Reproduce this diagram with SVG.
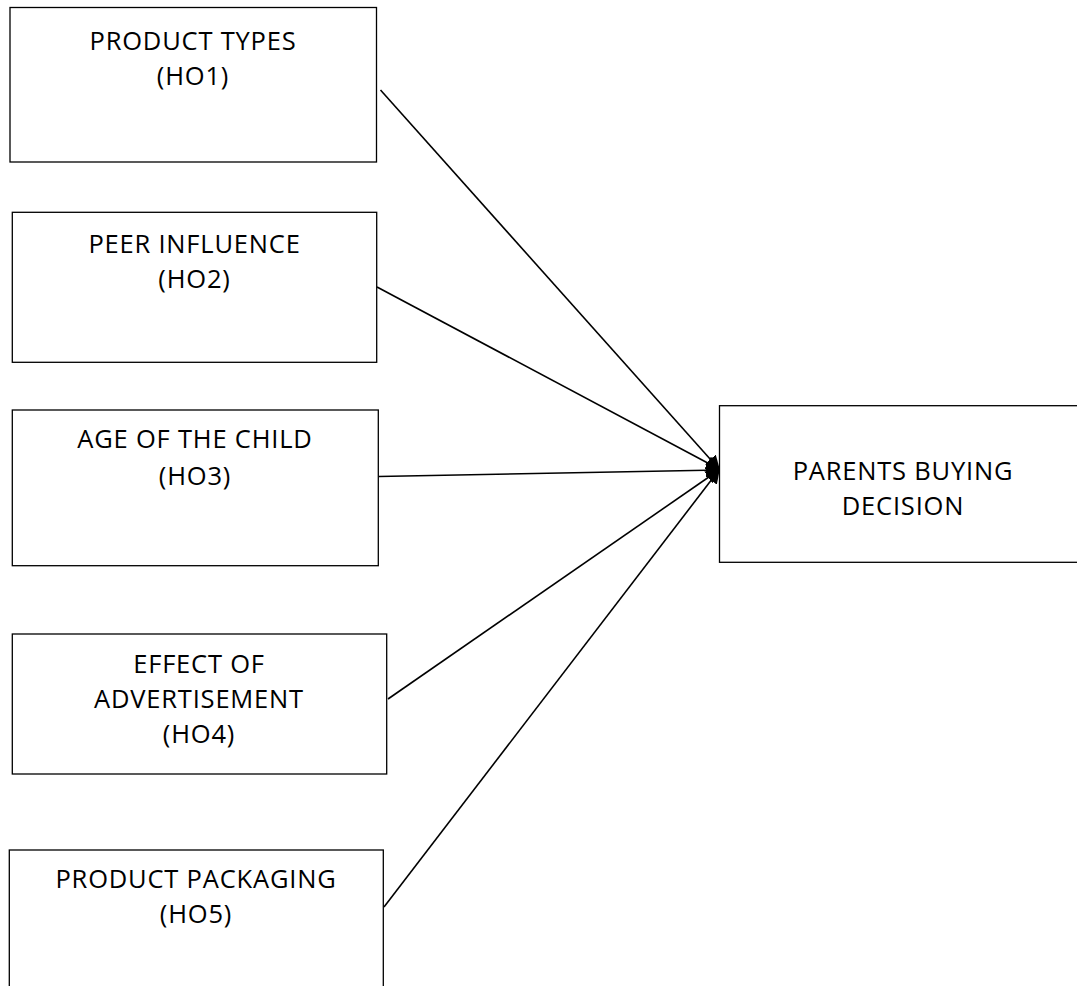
<svg xmlns="http://www.w3.org/2000/svg" width="1077" height="986" viewBox="0 0 1077 986">
<style>
.box{fill:#fff;stroke:#000;stroke-width:1.3}
.t{font-family:"Open Sans","Liberation Sans",sans-serif;font-size:25.5px;fill:#000;text-anchor:middle;letter-spacing:0.8px}
.c{stroke:#000;stroke-width:1.6;fill:none;marker-end:url(#ah)}
</style>
<defs>
<marker id="ah" viewBox="0 0 10 10" refX="9" refY="5" markerWidth="9" markerHeight="9" markerUnits="strokeWidth" orient="auto">
<path d="M0,0 L10,5 L0,10 z" fill="#000"/>
</marker>
</defs>
<rect width="1077" height="986" fill="#fff"/>
<g id="connectors">
<line class="c" x1="380.5" y1="90" x2="719" y2="469"/>
<line class="c" x1="377" y1="287" x2="719" y2="469"/>
<line class="c" x1="378.5" y1="476.5" x2="719" y2="470"/>
<line class="c" x1="388" y1="699" x2="719" y2="470"/>
<line class="c" x1="384" y1="907" x2="719" y2="470"/>
</g>
<g id="n1">
<rect class="box" x="10" y="7.5" width="366.5" height="154.5"/>
<text class="t" x="193" y="50">PRODUCT TYPES</text>
<text class="t" x="193" y="85">(HO1)</text>
</g>
<g id="n2">
<rect class="box" x="12.3" y="212.3" width="364.4" height="150"/>
<text class="t" x="194.5" y="253">PEER INFLUENCE</text>
<text class="t" x="194.5" y="288">(HO2)</text>
</g>
<g id="n3">
<rect class="box" x="12.3" y="410" width="366" height="155.7"/>
<text class="t" x="195" y="448">AGE OF THE CHILD</text>
<text class="t" x="195" y="485">(HO3)</text>
</g>
<g id="n4">
<rect class="box" x="12.3" y="634" width="374.4" height="140"/>
<text class="t" x="199" y="673">EFFECT OF</text>
<text class="t" x="199" y="708">ADVERTISEMENT</text>
<text class="t" x="199" y="743">(HO4)</text>
</g>
<g id="n5">
<rect class="box" x="9.3" y="850" width="374" height="150"/>
<text class="t" x="196" y="888">PRODUCT PACKAGING</text>
<text class="t" x="196" y="923">(HO5)</text>
</g>
<g id="n6">
<rect class="box" x="719.5" y="405.7" width="366" height="156.6"/>
<text class="t" x="903" y="480">PARENTS BUYING</text>
<text class="t" x="903" y="515">DECISION</text>
</g>
</svg>
